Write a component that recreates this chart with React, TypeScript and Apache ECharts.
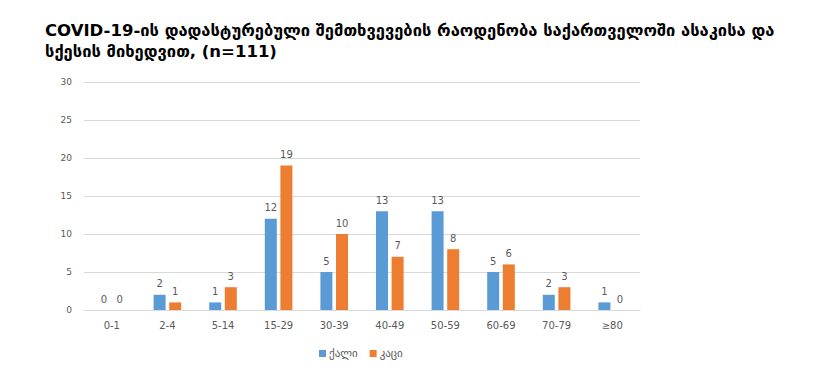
import React, { useEffect, useRef } from "react";
import * as echarts from "echarts";

const titleText =
  "COVID-19-ის დადასტურებული შემთხვევების რაოდენობა საქართველოში ასაკისა და\nსქესის მიხედვით, (n=111)";
const categories = ["0-1", "2-4", "5-14", "15-29", "30-39", "40-49", "50-59", "60-69", "70-79", "≥80"];
const femaleName = "ქალი";
const maleName = "კაცი";
const female = [0, 2, 1, 12, 5, 13, 13, 5, 2, 1];
const male = [0, 1, 3, 19, 10, 7, 8, 6, 3, 0];
const yTicks = { min: 0, max: 30, interval: 5 };

export default function App() {
  const ref = useRef<HTMLDivElement>(null);
  useEffect(() => {
    if (!ref.current) return;
    const chart = echarts.init(ref.current, null, { renderer: "svg" });
    const labelStyle = {
      show: true,
      position: "top" as const,
      color: "#595959",
      fontSize: 10,
      fontFamily: "DejaVu Sans",
      distance: 6,
    };
    chart.setOption({
      animation: false,
      backgroundColor: "#ffffff",
      title: {
        text: titleText,
        left: 32,
        top: 7,
        textStyle: {
          fontFamily: "DejaVu Sans",
          fontWeight: "bold",
          fontSize: 16.5,
          color: "#000000",
          lineHeight: 21,
        },
      },
      legend: {
        bottom: 16,
        left: 306,
        itemWidth: 7,
        itemHeight: 7,
        itemGap: 12,
        icon: "rect",
        textStyle: { color: "#595959", fontSize: 11, fontFamily: "DejaVu Sans", padding: [0, 0, 0, -2] },
        data: [femaleName, maleName],
      },
      grid: { left: 76, right: 192, top: 74, bottom: 70, containLabel: false },
      xAxis: {
        type: "category",
        data: categories,
        axisTick: { show: false },
        axisLine: { lineStyle: { color: "#d9d9d9", width: 1 } },
        axisLabel: { color: "#595959", fontSize: 10, fontFamily: "DejaVu Sans", margin: 10 },
      },
      yAxis: {
        type: "value",
        min: yTicks.min,
        max: yTicks.max,
        interval: yTicks.interval,
        axisLine: { show: false },
        axisTick: { show: false },
        splitLine: { lineStyle: { color: "#d9d9d9", width: 1 } },
        axisLabel: { color: "#595959", fontSize: 9, fontFamily: "DejaVu Sans", margin: 12 },
      },
      series: [
        {
          name: femaleName,
          type: "bar",
          data: female,
          barWidth: 12,
          barGap: "30%",
          itemStyle: { color: "#5b9bd5" },
          label: labelStyle,
        },
        {
          name: maleName,
          type: "bar",
          data: male,
          barWidth: 12,
          itemStyle: { color: "#ed7d31" },
          label: labelStyle,
        },
      ],
    });
    return () => chart.dispose();
  }, []);
  return <div ref={ref} style={{ width: 824, height: 372 }} />;
}
